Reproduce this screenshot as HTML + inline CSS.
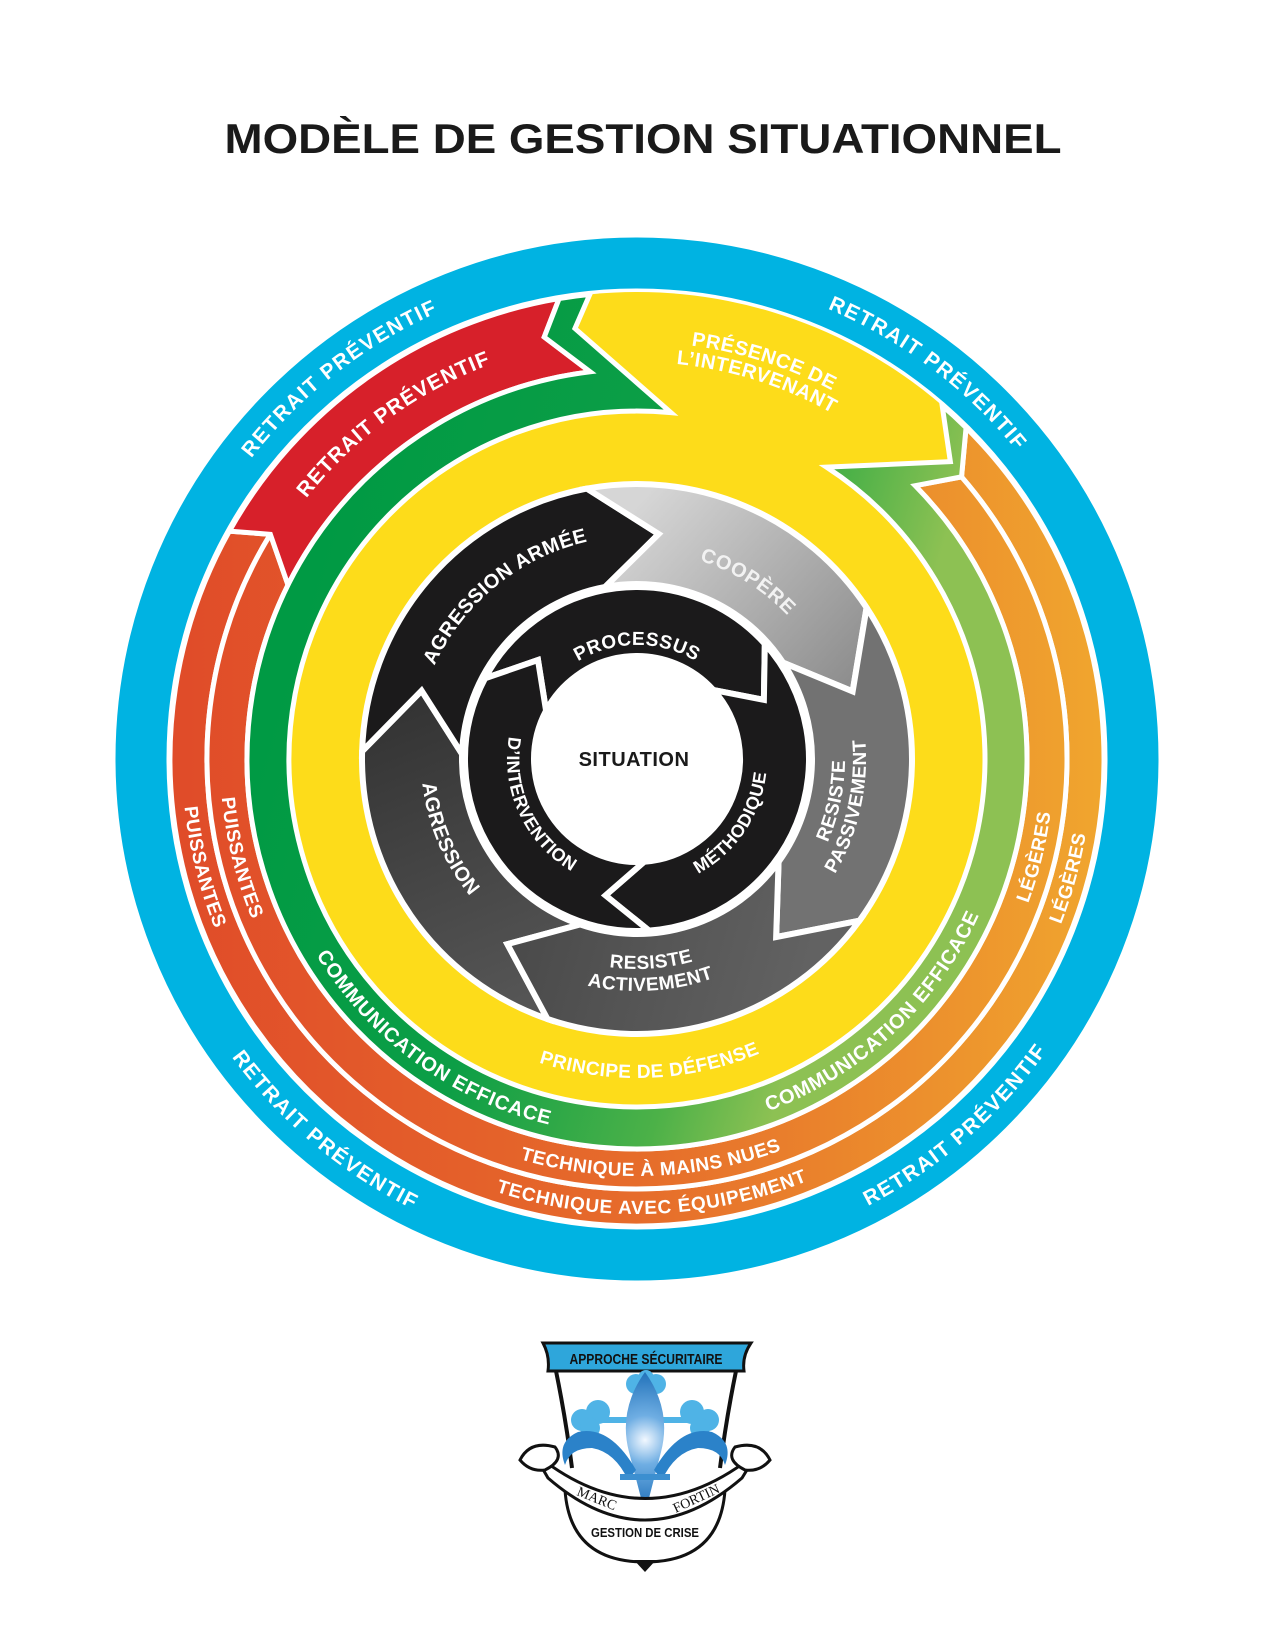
<!DOCTYPE html>
<html><head><meta charset="utf-8">
<style>
html,body{margin:0;padding:0;background:#fff;}
svg{display:block;}
text{font-family:"Liberation Sans",sans-serif;font-weight:bold;}
</style></head>
<body>
<svg id="s" xmlns="http://www.w3.org/2000/svg" width="1275" height="1650" viewBox="0 0 1275 1650">
<defs>
<linearGradient id="gG" gradientUnits="userSpaceOnUse" x1="330" y1="500" x2="1000" y2="700">
<stop offset="0" stop-color="#009A44"/><stop offset="0.4" stop-color="#0C9E46"/><stop offset="0.7" stop-color="#4CB148"/><stop offset="0.86" stop-color="#8DC153"/></linearGradient>
<linearGradient id="gO" gradientUnits="userSpaceOnUse" x1="170" y1="0" x2="1105" y2="0">
<stop offset="0" stop-color="#E04B29"/><stop offset="0.5" stop-color="#E66C2B"/><stop offset="1" stop-color="#F0A62E"/></linearGradient>
<linearGradient id="gC" gradientUnits="userSpaceOnUse" x1="650" y1="490" x2="880" y2="700">
<stop offset="0" stop-color="#D6D6D6"/><stop offset="1" stop-color="#858585"/></linearGradient>
<linearGradient id="gA" gradientUnits="userSpaceOnUse" x1="400" y1="700" x2="520" y2="1000">
<stop offset="0" stop-color="#333"/><stop offset="1" stop-color="#555"/></linearGradient>
<linearGradient id="gR" gradientUnits="userSpaceOnUse" x1="520" y1="920" x2="800" y2="1000">
<stop offset="0" stop-color="#4A4A4A"/><stop offset="1" stop-color="#626262"/></linearGradient>
<radialGradient id="gF" cx="645" cy="1440" r="70" gradientUnits="userSpaceOnUse">
<stop offset="0" stop-color="#F2F8FF"/><stop offset="0.35" stop-color="#6FAEE3"/><stop offset="1" stop-color="#1E6FB8"/></radialGradient>
</defs>
<text x="643" y="153" text-anchor="middle" font-size="42" textLength="837" lengthAdjust="spacingAndGlyphs" fill="#1a1a1a">MODÈLE DE GESTION SITUATIONNEL</text>
<g id="g"></g>
<g>
<path d="M556,1371 Q566,1420 572,1468" fill="none" stroke="#111" stroke-width="4"/>
<path d="M736,1371 Q726,1420 720,1468" fill="none" stroke="#111" stroke-width="4"/>
<path d="M565,1490 Q570,1562 645,1562 Q720,1562 725,1490" fill="none" stroke="#111" stroke-width="3"/>
<path d="M543,1343 L751,1343 Q742,1356 744,1371 L548,1371 Q550,1356 543,1343 Z" fill="#2EA6DB" stroke="#111" stroke-width="3"/>
<text x="646" y="1364" text-anchor="middle" font-size="15" textLength="153" lengthAdjust="spacingAndGlyphs" fill="#111">APPROCHE SÉCURITAIRE</text>
<g fill="#4FB3E6">
<circle cx="636" cy="1384" r="10"/><circle cx="656" cy="1384" r="10"/><circle cx="646" cy="1378" r="8"/>
<circle cx="598" cy="1412" r="12"/><circle cx="582" cy="1420" r="11"/><circle cx="590" cy="1428" r="10"/>
<circle cx="692" cy="1412" r="12"/><circle cx="708" cy="1420" r="11"/><circle cx="700" cy="1428" r="10"/>
<rect x="600" y="1417" width="90" height="6"/>
</g>
<path d="M645,1372 Q672,1410 661,1452 Q651,1490 645,1514 Q639,1490 629,1452 Q618,1410 645,1372 Z" fill="url(#gF)"/>
<path d="M636,1470 Q610,1425 578,1432 Q556,1442 565,1465 Q570,1448 592,1448 Q615,1452 628,1480 Z" fill="#2B82C9"/>
<path d="M654,1470 Q680,1425 712,1432 Q734,1442 725,1465 Q720,1448 698,1448 Q675,1452 662,1480 Z" fill="#2B82C9"/>
<rect x="620" y="1474" width="50" height="6" fill="#3C8FD0"/>
<path d="M533,1452 Q645,1545 758,1452 L742,1478 Q645,1562 548,1478 Z" fill="#fff" stroke="#111" stroke-width="3"/>
<path d="M520,1460 Q530,1440 555,1447 Q565,1460 545,1470 Q530,1472 520,1460 Z" fill="#fff" stroke="#111" stroke-width="3"/>
<path d="M770,1460 Q760,1440 735,1447 Q725,1460 745,1470 Q760,1472 770,1460 Z" fill="#fff" stroke="#111" stroke-width="3"/>
<path d="M634,1560 L645,1572 L656,1560 Z" fill="#111"/>
<text x="597" y="1503" text-anchor="middle" font-size="14" style="font-family:'Liberation Serif',serif;font-weight:normal" transform="rotate(22 597 1498)" fill="#111">MARC</text>
<text x="696" y="1503" text-anchor="middle" font-size="14" style="font-family:'Liberation Serif',serif;font-weight:normal" transform="rotate(-25 696 1498)" fill="#111">FORTIN</text>
<text x="645" y="1537" text-anchor="middle" font-size="13" textLength="108" lengthAdjust="spacingAndGlyphs" fill="#111">GESTION DE CRISE</text>
</g>
</svg>
<script>
(function(){
const cx=637, cy=759;
function P(r,t){const a=t*Math.PI/180;return [(cx+r*Math.sin(a)).toFixed(2),(cy-r*Math.cos(a)).toFixed(2)];}
function pt(r,t){return P(r,t).join(' ');}
function arc(r,t1,t2,cw){let span=cw?(((t2-t1)%360)+360)%360:(((t1-t2)%360)+360)%360;
 return ' A'+r+' '+r+' 0 '+(span>180?1:0)+' '+(cw?1:0)+' '+pt(r,t2);}
let o='';
function path(d,fill,sw){o+='<path d="'+d+'" fill="'+fill+'" stroke="#fff" stroke-width="'+(sw||5)+'" stroke-linejoin="miter"/>';}
o+='<circle cx="'+cx+'" cy="'+cy+'" r="496" fill="none" stroke="#00B3E2" stroke-width="51"/>';
o+='<circle cx="'+cx+'" cy="'+cy+'" r="467" fill="#FDDC1A"/>';
path('M'+pt(467,44.8)+arc(467,44.8,-60.8,1)+' L'+pt(430,-58.5)+arc(430,-58.5,49,0)+' Z','url(#gO)');
path('M'+pt(430,49)+arc(430,49,-58.5,1)+' L'+pt(390,-63.5)+arc(390,-63.5,45.5,0)+' Z','url(#gO)');
path('M'+pt(467,-60.8)+arc(467,-60.8,-9.6,1)+' L'+pt(432,-12.4)+' L'+pt(390,-6.9)+arc(390,-6.9,-63.5,0)+' L'+pt(430,-58.5)+' Z','#D7202A');
path('M'+pt(348,33)+' L'+pt(432,46.5)+' L'+pt(467,40.8)+arc(467,40.8,44.8,1)+' L'+pt(430,49)+' L'+pt(390,45.5)+arc(390,45.5,-6.9,1)+' L'+pt(432,-12.4)+' L'+pt(467,-9.6)+arc(467,-9.6,-5.8,1)+' L'+pt(435,-8.2)+' L'+pt(348,5.6)+arc(348,5.6,33,0)+' Z','url(#gG)');
o+='<circle cx="'+cx+'" cy="'+cy+'" r="277" fill="#fff"/>';
function chev(ro,ri,rm,a0,a1,d,fill,sw){
 path('M'+pt(ro,a0-d)+arc(ro,a0-d,a1-d,1)+' L'+pt(rm,a1)+' L'+pt(ri,a1-d)+arc(ri,a1-d,a0-d,0)+' L'+pt(rm,a0)+' Z',fill,sw);}
const A=[-72.4,5.5,72.6,142,215];
const F=['#1B1A1B','url(#gC)','#727272','url(#gR)','url(#gA)'];
chev(275,175,226,A[4]-360,A[0],16,F[4],6);
chev(275,175,226,A[0],A[1],16,F[0],6);
chev(275,175,226,A[1],A[2],16,F[1],6);
chev(275,175,226,A[2],A[3],16,F[2],6);
chev(275,175,226,A[3],A[4],16,F[3],6);
const B=[-45,65,193];
chev(172,103,140,B[0],B[1],17,'#1B1A1B',6);
chev(172,103,140,B[1],B[2],17,'#1B1A1B',6);
chev(172,103,140,B[2],B[0]+360,17,'#1B1A1B',6);
o+='<circle cx="'+cx+'" cy="'+cy+'" r="102" fill="#fff"/>';
o+='<text x="634" y="766" text-anchor="middle" font-size="20" fill="#1a1a1a" letter-spacing="0.5">SITUATION</text>';
let n=0;
function lab(txt,t,r,top,size,ls,fill){
 n++;const id='tp'+n;let d;
 if(top){d='M'+pt(r,t-85)+arc(r,t-85,t+85,1);}else{d='M'+pt(r,t+85)+arc(r,t+85,t-85,0);}
 o+='<path id="'+id+'" d="'+d+'" fill="none" stroke="none"/>';
 o+='<text font-size="'+size+'" letter-spacing="'+ls+'" fill="'+(fill||'#fff')+'"><textPath href="#'+id+'" startOffset="50%" text-anchor="middle">'+txt+'</textPath></text>';
}
lab('RETRAIT PRÉVENTIF',-38,489,1,21,1.5);
lab('RETRAIT PRÉVENTIF',37,489,1,21,1.5);
lab('RETRAIT PRÉVENTIF',220,503,0,21,1.5);
lab('RETRAIT PRÉVENTIF',139,503,0,21,1.5);
lab('RETRAIT PRÉVENTIF',-36,421,1,21,1);
lab('PRÉSENCE DE',17.7,417,1,20,0.5);
lab('L’INTERVENANT',17.6,397,1,20,0.5);
lab('PUISSANTES',256,455,0,19,0.5);
lab('PUISSANTES',256,417,0,19,0.5);
lab('LÉGÈRES',105.4,455,0,19,0.5);
lab('LÉGÈRES',103.8,417,0,19,0.5);
lab('TECHNIQUE AVEC ÉQUIPEMENT',178,455,0,19,0.8);
lab('TECHNIQUE À MAINS NUES',178,417,0,19,0.5);
lab('COMMUNICATION EFFICACE',216,376,0,20,0.8);
lab('COMMUNICATION EFFICACE',137,376,0,20,0.8);
lab('PRINCIPE DE DÉFENSE',177.6,319,0,19,0.5);
lab('AGRESSION ARMÉE',-39,223,1,20,0.5);
lab('COOPÈRE',32,208,1,20,0.8,'#F2F2F2');
lab('RESISTE',102,208,0,19,0.5);
lab('PASSIVEMENT',102.6,229,0,19,0.5);
lab('RESISTE',176,210,0,19,0.5);
lab('ACTIVEMENT',176.5,232,0,19,0.5);
lab('AGRESSION',247,216,0,20,0.5);
lab('PROCESSUS',0,114,1,19,0.5);
lab('D’INTERVENTION',245,130,0,18,0.5);
lab('MÉTHODIQUE',124,130,0,18,0.5);
document.getElementById('g').innerHTML=o;
})();
</script>
</body></html>
